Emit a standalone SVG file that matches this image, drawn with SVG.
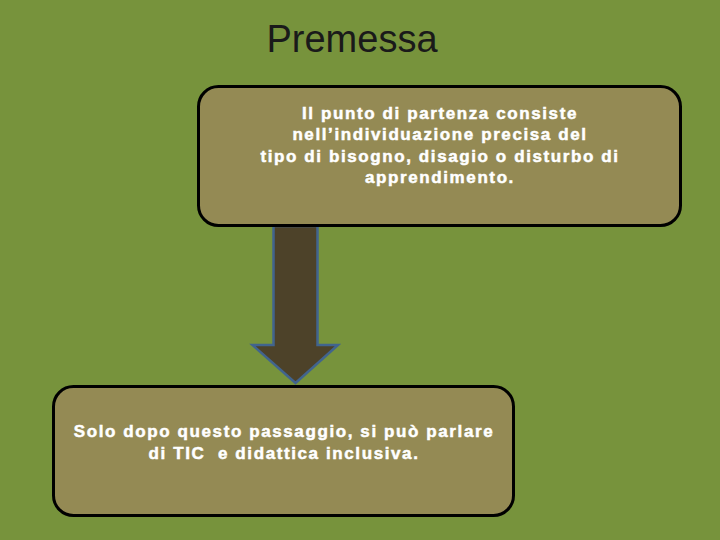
<svg xmlns="http://www.w3.org/2000/svg" width="720" height="540" viewBox="0 0 720 540">
<style>
.box{fill:#948A54;stroke:#000;stroke-width:3}
.t{font-family:"Liberation Sans",Arial,sans-serif;font-weight:bold;font-size:17px;fill:#fff;stroke:#fff;stroke-width:0.5;text-anchor:middle;letter-spacing:1.6px}
.title{font-family:"Liberation Sans",Arial,sans-serif;font-size:38px;fill:#1a1a1a;text-anchor:middle}
</style>
<rect width="720" height="540" fill="#77933C"/>
<text class="title" x="352" y="52">Premessa</text>
<g id="connectors">
<path d="M273.5,226 L317.5,226 L317.5,345 L338,345 L295.5,383 L252.5,345 L273.5,345 Z" fill="#4D4229" stroke="#41648E" stroke-width="2.5" stroke-linejoin="miter"/>
</g>
<g id="node1">
<rect class="box" x="198.5" y="86.5" width="482" height="139" rx="20"/>
<text class="t" x="440" y="119">Il punto di partenza consiste</text>
<text class="t" x="440" y="140">nell’individuazione precisa del</text>
<text class="t" x="440" y="162">tipo di bisogno, disagio o disturbo di</text>
<text class="t" x="440" y="183">apprendimento.</text>
</g>
<g id="node2">
<rect class="box" x="53.5" y="386.5" width="460" height="129" rx="20"/>
<text class="t" x="284" y="437">Solo dopo questo passaggio, si può parlare</text>
<text class="t" x="284" y="459" xml:space="preserve">di TIC  e didattica inclusiva.</text>
</g>
</svg>
